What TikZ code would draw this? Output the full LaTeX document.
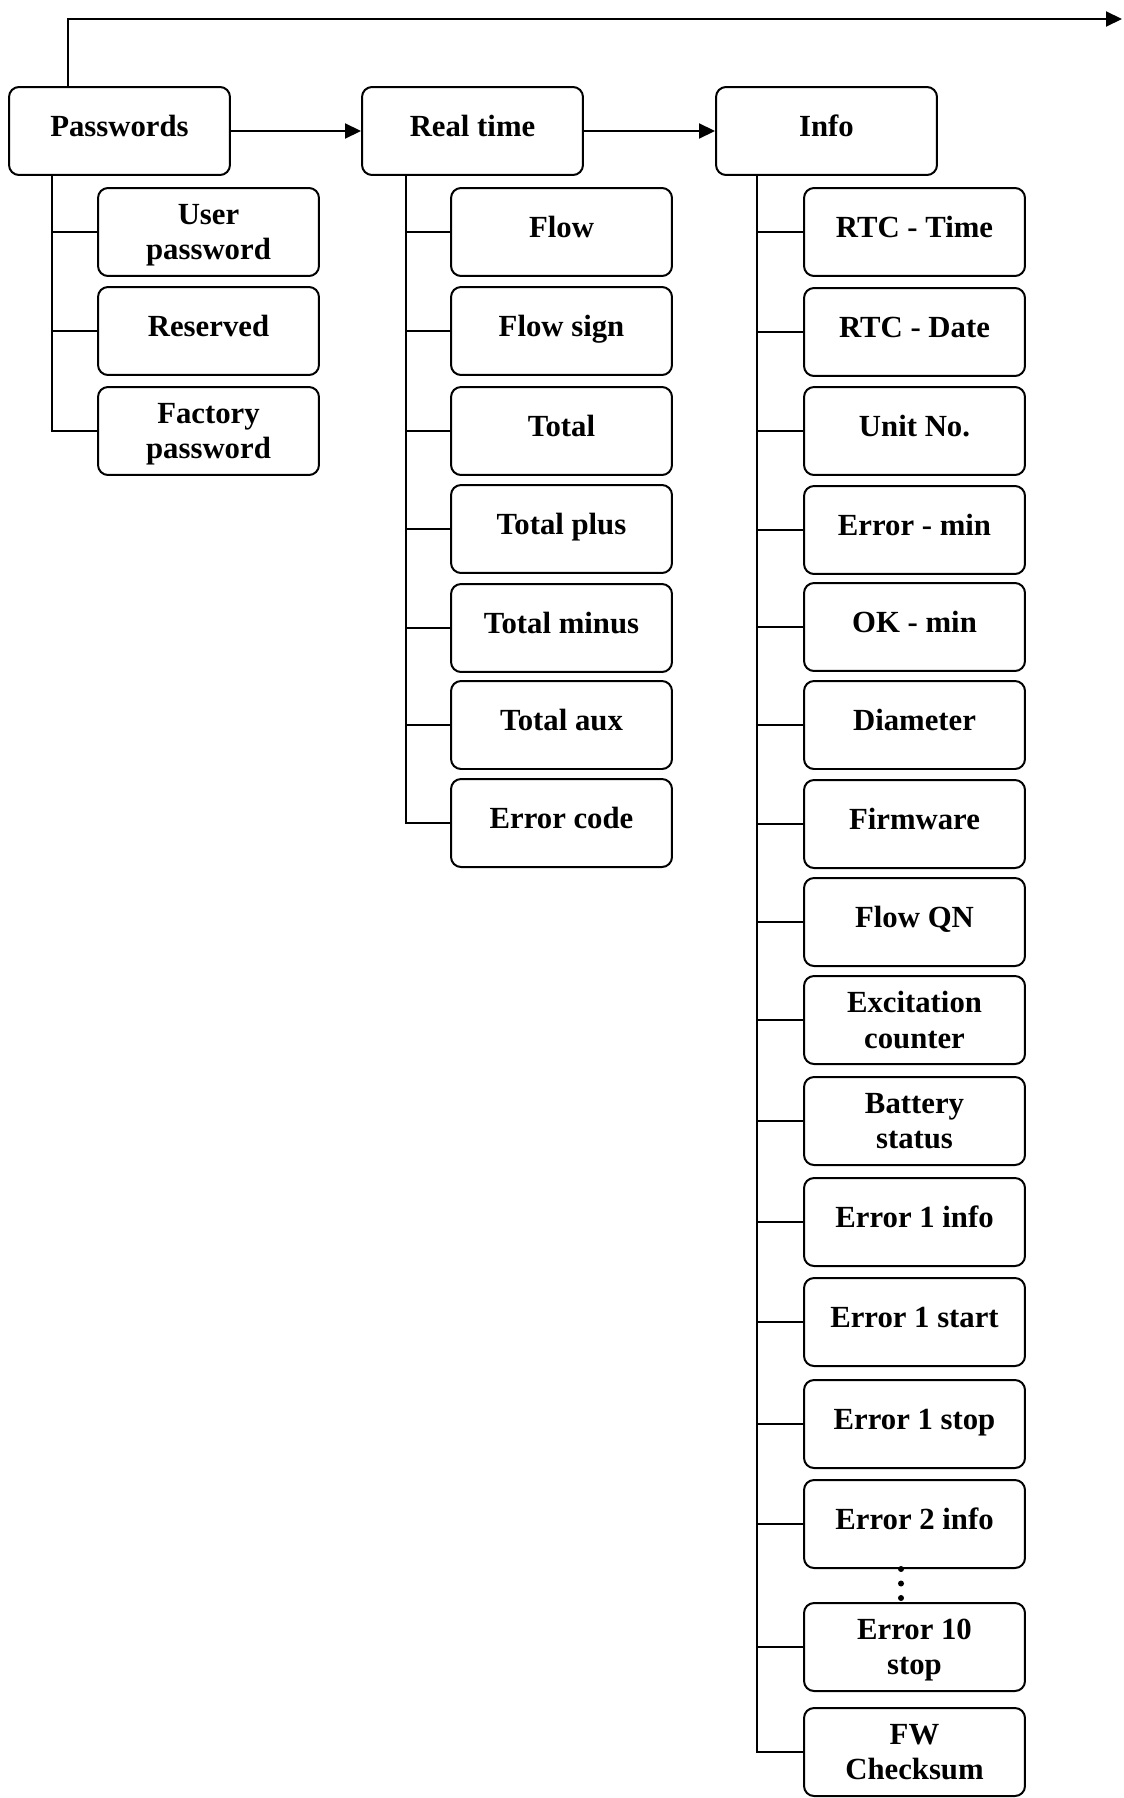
\documentclass[tikz,border=0pt]{standalone}
\usepackage{fontspec}
\setmainfont{Liberation Serif}
\usetikzlibrary{arrows.meta, positioning}

% last line with a descender, kept off the box depth
\newcommand{\nodesc}[1]{\raisebox{0pt}[\height][0pt]{#1}}

\begin{document}
\begin{tikzpicture}[x=0.02cm, y=-0.02cm, line width=0.04cm,
  >={Triangle[length=0.32cm,width=0.3cm]},
  menubox/.style={draw, rounded corners=0.2cm, minimum width=4.42cm,
    minimum height=1.76cm, align=center, inner sep=2pt,
    font=\fontsize{17.5}{20}\selectfont\bfseries},
  one/.style={text height=12pt, text depth=5.5pt},
  two/.style={}]

\useasboundingbox (0,0) rectangle (1123,1798);

%% ---- Top level menus ----
\node[menubox, one] (pw)  at (119.5,131) {Passwords};
\node[menubox, one] (rt)  at (472.5,131) {Real time};
\node[menubox, one] (inf) at (826.5,131) {Info};

\draw[->] (pw) -- (rt);
\draw[->] (rt) -- (inf);

%% return line over the top
\coordinate (next) at (1122,19);
\draw[->] ([xshift=1.2cm]pw.north west) |- (next);

%% ---- Passwords submenu ----
\foreach \n/\y/\s/\t in {1/232/two/{User\\\nodesc{password}},
                         2/331/one/{Reserved},
                         3/431/two/{Factory\\\nodesc{password}}} {
  \node[menubox, \s] (pw\n) at (208.5,\y) {\t};
  \draw ([xshift=0.88cm]pw.south west) |- (pw\n.west);
}

%% ---- Real time submenu ----
\foreach \n/\y/\t in {1/232/{Flow}, 2/331/{Flow sign}, 3/431/{Total},
                      4/529/{Total plus}, 5/628/{Total minus},
                      6/725/{Total aux}, 7/823/{Error code}} {
  \node[menubox, one] (rt\n) at (561.5,\y) {\t};
  \draw ([xshift=0.9cm]rt.south west) |- (rt\n.west);
}

%% ---- Info submenu ----
\foreach \n/\y/\s/\t in {1/232/one/{RTC - Time}, 2/332/one/{RTC - Date},
                         3/431/one/{Unit No.}, 4/530/one/{Error - min},
                         5/627/one/{OK - min}, 6/725/one/{Diameter},
                         7/824/one/{Firmware}, 8/922/one/{Flow QN},
                         9/1020/two/{Excitation\\counter},
                         10/1121/two/{Battery\\status},
                         11/1222/one/{Error 1 info}, 12/1322/one/{Error 1 start},
                         13/1424/one/{Error 1 stop}, 14/1524/one/{Error 2 info},
                         15/1647/two/{Error 10\\\nodesc{stop}},
                         16/1752/two/{FW\\Checksum}} {
  \node[menubox, \s] (inf\n) at (914.5,\y) {\t};
  \draw ([xshift=0.84cm]inf.south west) |- (inf\n.west);
}

%% dots between Error 2 info and Error 10 stop
\foreach \y in {1569,1583.5,1598}
  \fill (901,\y) circle (0.06cm);

\end{tikzpicture}
\end{document}
